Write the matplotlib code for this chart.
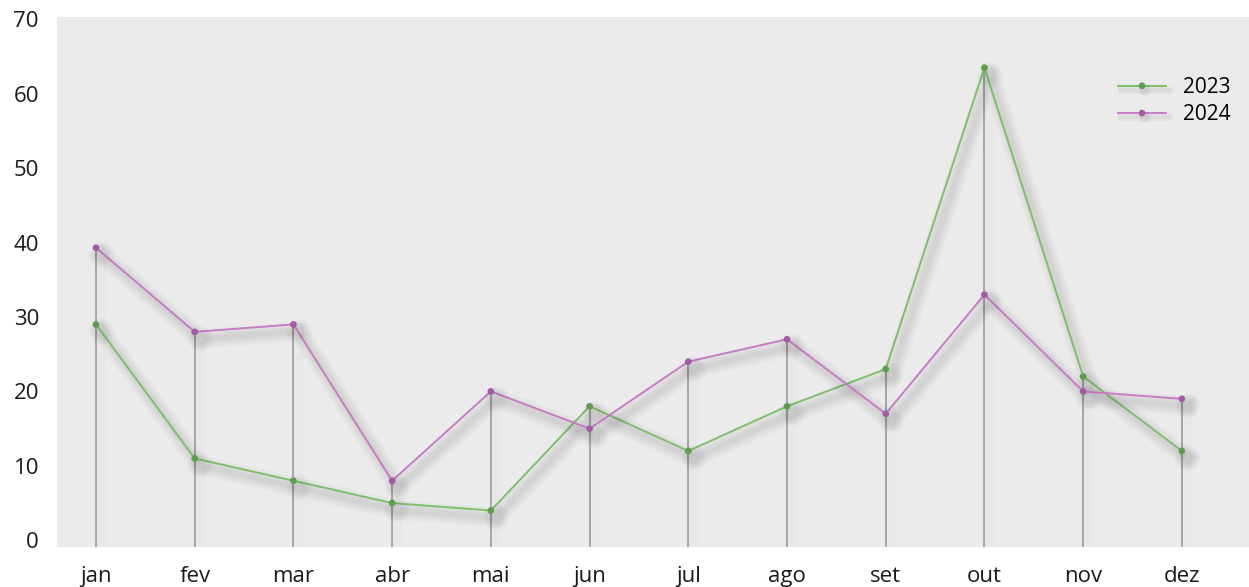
import matplotlib.pyplot as plt
import matplotlib.patheffects as pe
import numpy as np

months = ["jan", "fev", "mar", "abr", "mai", "jun", "jul", "ago", "set", "out", "nov", "dez"]
vals_2023 = [29, 11, 8, 5, 4, 18, 12, 18, 23, 63.5, 22, 12]
vals_2024 = [39.3, 28, 29, 8, 20, 15, 24, 27, 17, 33, 20, 19]
yticks = [0, 10, 20, 30, 40, 50, 60, 70]

green = "#7cc06a"
green_dark = "#5e9c50"
purple = "#c67cc6"
purple_dark = "#a35ca3"


def soft_shadow(offset=(4, -5), base=0.024, widths=(14, 10, 7, 4)):
    # stack a few wide, faint shadows to fake a blur
    fx = [pe.SimpleLineShadow(offset=offset, shadow_color="k", alpha=base, linewidth=w) for w in widths]
    return fx + [pe.Normal()]


plt.rcParams['font.family'] = ['Open Sans', 'DejaVu Sans']

fig = plt.figure(figsize=(12.49, 5.87), dpi=100)
ax = fig.add_axes([57 / 1249, 40 / 587, 1 - 57 / 1249, 530 / 587])
ax.set_facecolor("#ebebeb")

x = np.arange(len(months))
ybottom = -0.9

# drop lines from the higher point down to the bottom
tops = np.maximum(vals_2023, vals_2024)
vl = ax.vlines(x, ybottom, tops, color="#9b9b9b", lw=1.2, zorder=1)
vl.set_path_effects([pe.SimpleLineShadow(offset=(3, 0), shadow_color="k", alpha=0.012, linewidth=8),
                     pe.Normal()])

l1, = ax.plot(x, vals_2023, color=green, lw=1.4, marker="o", ms=3.8,
              mfc=green_dark, mec=green_dark, label="2023", zorder=3)
l2, = ax.plot(x, vals_2024, color=purple, lw=1.4, marker="o", ms=3.8,
              mfc=purple_dark, mec=purple_dark, label="2024", zorder=3)
for ln in (l1, l2):
    ln.set_path_effects(soft_shadow())

ax.set_xlim(-0.395, 11.68)
ax.set_ylim(ybottom, 70.3)
ax.set_xticks(x)
ax.set_xticklabels(months)
ax.set_yticks(yticks)
ax.tick_params(axis="both", length=0, labelsize=16, colors="#1a1a1a")
ax.tick_params(axis="y", pad=13)
ax.tick_params(axis="x", pad=14)
for s in ax.spines.values():
    s.set_visible(False)

leg = ax.legend(loc="upper right", bbox_to_anchor=(1.0, 0.922), frameon=False,
                fontsize=15, handlelength=2.3, handletextpad=0.8, labelspacing=0.3)
for h in leg.legend_handles:
    h.set_path_effects(soft_shadow(offset=(2, -3), base=0.03, widths=(5, 3)))

fig.savefig("out.png", dpi=100)
